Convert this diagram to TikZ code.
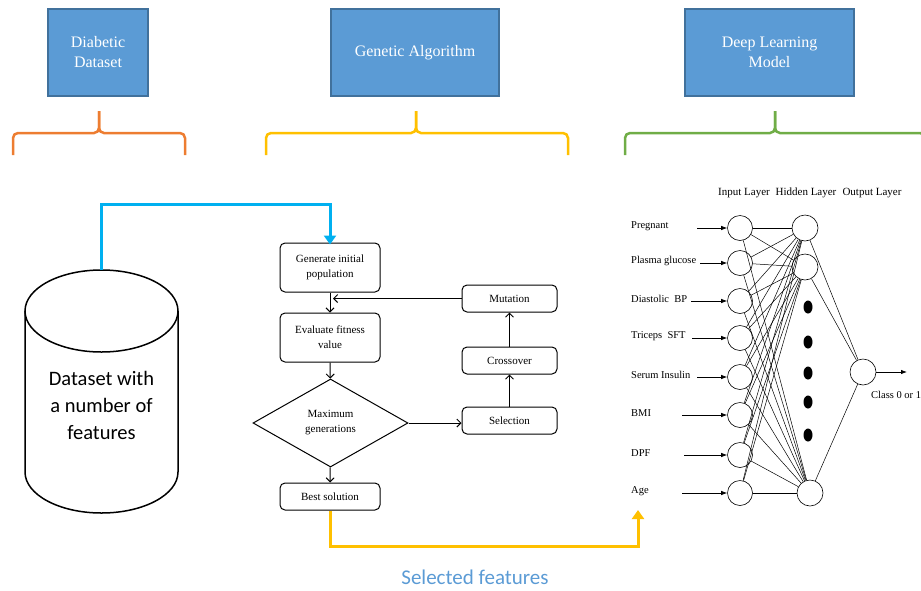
\documentclass[tikz,border=0pt]{standalone}
\usepackage{fontspec}
\setmainfont{Liberation Serif}
\newfontfamily\calibri{Carlito}
\usetikzlibrary{arrows.meta,shapes.geometric,positioning}
\definecolor{boxblue}{HTML}{5B9BD5}
\definecolor{boxedge}{HTML}{41719C}
\definecolor{linkblue}{HTML}{00B0F0}
\definecolor{braceorange}{HTML}{ED7D31}
\definecolor{braceyellow}{HTML}{FFC000}
\definecolor{bracegreen}{HTML}{70AD47}

\tikzset{
  titlebox/.style={draw=boxedge, fill=boxblue, line width=1.5pt, text=white, align=center,
    font=\fontsize{16}{20}\selectfont, minimum height=87pt, inner sep=0pt},
  brace/.style={line width=2.5pt, rounded corners=5pt},
  gabox/.style={draw, rounded corners=5pt, line width=1pt, align=center,
    font=\fontsize{11}{15}\selectfont, inner sep=0pt},
  gaarrow/.style={line width=1pt, -{Straight Barb[length=4pt,width=8pt]}},
  neuron/.style={draw, circle, minimum size=25pt, inner sep=0pt, line width=0.6pt},
  blackdot/.style={fill, ellipse, minimum width=9pt, minimum height=13pt, inner sep=0pt},
  nnlabel/.style={font=\fontsize{10.5}{12}\selectfont, inner sep=0pt},
  nnline/.style={line width=0.5pt},
  nnarrow/.style={line width=0.8pt, -{Latex[length=6pt,width=4.5pt]}},
  link/.style={line width=3pt, -{Triangle[length=9pt,width=12pt]}},
}

\begin{document}
\begin{tikzpicture}[x=1pt,y=-1pt]
\useasboundingbox (0,0) rectangle (921,590);

% top titles
\node[titlebox, minimum width=100pt] (dsbox) at (98,52.5) {Diabetic\\Dataset};
\node[titlebox, minimum width=168pt] (gabox) at (415,52.5) {Genetic Algorithm};
\node[titlebox, minimum width=169pt] (dlbox) at (769.5,52.5) {Deep Learning\\Model};

% braces
\draw[brace, braceorange] (13,155) -- (13,133) -- (99,133) -- (99,111);
\draw[brace, braceorange] (99,111) -- (99,133) -- (185,133) -- (185,155);
\draw[brace, braceyellow] (266,155) -- (266,133) -- (416,133) -- (416,111);
\draw[brace, braceyellow] (416,111) -- (416,133) -- (568,133) -- (568,155);
\draw[brace, bracegreen] (625,155) -- (625,133) -- (775,133) -- (775,111);
\draw[brace, bracegreen] (775,111) -- (775,133) -- (925,133) -- (925,155);

% dataset cylinder
\draw[line width=1.5pt] (25,311) -- (25,472)
  arc[start angle=180, end angle=0, x radius=76.5, y radius=41] -- (178,311);
\draw[line width=1.5pt] (101.5,311) ellipse[x radius=76.5, y radius=41];
\coordinate (dbtop) at (101.5,270);
\node[align=center, font=\calibri\fontsize{20.5}{27}\selectfont] (dbtext) at (101.5,405)
  {Dataset with\\a number of\\features};

% genetic algorithm flow
\node[gabox, minimum width=100pt, minimum height=49pt] (gen) at (330,267.5) {Generate initial\\population};
\node[gabox, minimum width=100pt, minimum height=49pt] (eval) at (330,337.5) {Evaluate fitness\\value};
\node[diamond, draw, line width=1pt, aspect=1.76, minimum width=155pt, minimum height=88pt,
  inner sep=0pt, align=center, font=\fontsize{11}{15}\selectfont] (maxgen) at (330.5,423) {Maximum\\generations};
\node[gabox, minimum width=100pt, minimum height=27pt] (best) at (330,496.5) {Best solution};
\node[gabox, minimum width=95pt, minimum height=27pt] (mut) at (509.5,298.5) {Mutation};
\node[gabox, minimum width=95pt, minimum height=27pt] (cross) at (509.5,360.5) {Crossover};
\node[gabox, minimum width=95pt, minimum height=27pt] (sel) at (509.5,420.5) {Selection};
\coordinate (mutend) at (333,298.5);

\draw[gaarrow] (gen) -- (eval);
\draw[gaarrow] (eval) -- (maxgen);
\draw[gaarrow] (maxgen) -- (best);
\draw[gaarrow] (maxgen.east) -- (maxgen.east -| sel.west);
\draw[gaarrow] (sel) -- (cross);
\draw[gaarrow] (cross) -- (mut);
\draw[gaarrow] (mut.west) -- (mutend);

% neural network
\node[nnlabel, font=\fontsize{11}{12}\selectfont] (inlayer) at (744,193) {Input Layer};
\node[nnlabel, font=\fontsize{11}{12}\selectfont] (hidlayer) at (806,193) {Hidden Layer};
\node[nnlabel, font=\fontsize{11}{12}\selectfont] (outlayer) at (872,193) {Output Layer};

\foreach \name/\y/\sx [count=\i] in {Pregnant/228/697, Plasma glucose/263/700,
    Diastolic\ \ BP/301/691, Triceps\ \ SFT/338/692, Serum Insulin/377/697,
    BMI/415/682, DPF/455/684, Age/493/682}{
  \node[nnlabel, anchor=west] (lbl\i) at (631,\y-2) {\name};
  \node[neuron] (in\i) at (740,\y) {};
  \coordinate (src\i) at (\sx,\y);
  \draw[nnarrow] (src\i) -- (in\i);
}

\node[neuron, minimum size=26pt] (h1) at (805,228) {};
\node[neuron, minimum size=26pt] (h2) at (805,267) {};
\node[neuron, minimum size=26pt] (h3) at (810,493) {};
\foreach \y [count=\k] in {307,342,373,402,435}
  \node[blackdot] (d\k) at (808,\y) {};
\node[neuron, minimum size=26pt] (out) at (863,372) {};

\foreach \i in {1,...,8}
  \foreach \h in {h1,h2,h3}
    \draw[nnline] (in\i) -- (\h);
\foreach \h in {h1,h2,h3}
  \draw[nnline] (\h) -- (out);

\coordinate (outend) at (907,372);
\draw[nnarrow] (out) -- (outend);
\node[nnlabel, anchor=west] (cls) at (871,395) {Class 0 or 1};

% links between stages
\draw[link, linkblue] (dbtop) -- ++(0,-66) -| ([yshift=-2pt]gen.north);
\coordinate (nnin) at (638,510);
\draw[link, braceyellow] (best.south) -- ++(0,36) -| (nnin);
\node[font=\calibri\fontsize{21}{24}\selectfont, text=boxblue] (selfeat) at (475,577) {Selected features};

\end{tikzpicture}
\end{document}
